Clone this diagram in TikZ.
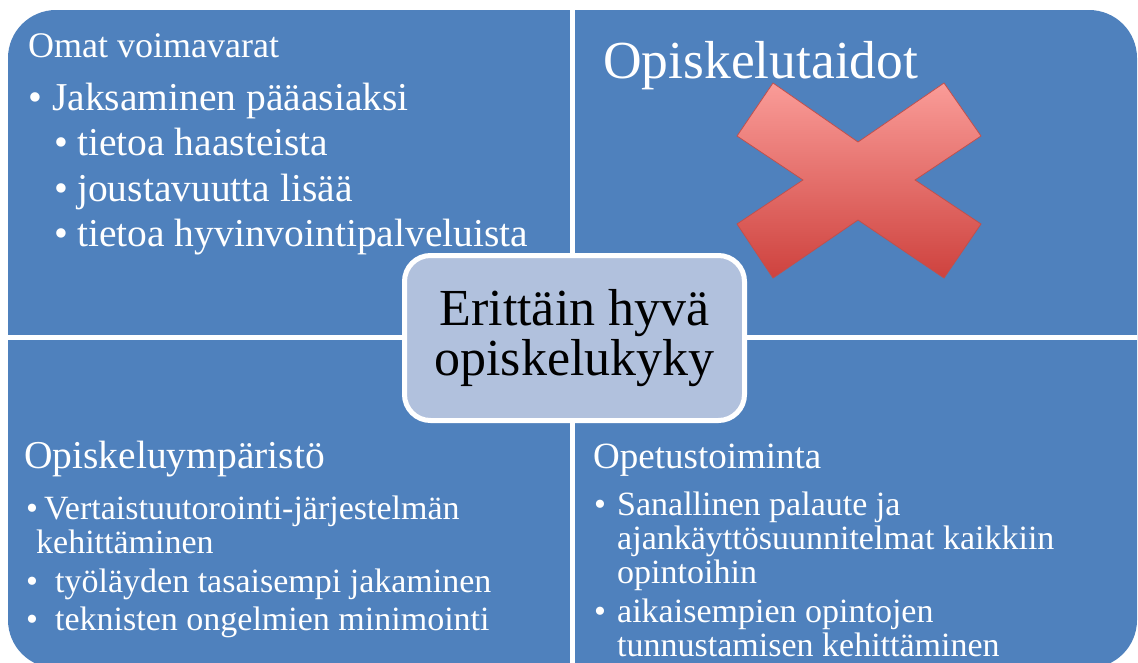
\documentclass[tikz,border=0pt]{standalone}
\usepackage{fontspec}
\setmainfont{Liberation Serif}
\definecolor{QuadBlue}{RGB}{79,129,189}
\definecolor{HubBlue}{RGB}{177,193,221}
\definecolor{CrossTop}{RGB}{250,156,152}
\definecolor{CrossBot}{RGB}{206,66,62}
\definecolor{CrossLine}{RGB}{192,80,77}
\newcommand{\blt}[1]{\makebox[#1][l]{\textbullet}}
\newcommand{\fsz}[2]{\fontsize{#1}{#2}\selectfont}

\begin{document}
\begin{tikzpicture}[x=1pt, y=-1pt,
    txt/.style={text=white, inner sep=0pt, anchor=base west, align=left},
    hub/.style={rectangle, rounded corners=26pt, fill=HubBlue, draw=white, line width=5pt,
                minimum width=340pt, minimum height=165pt, align=center, inner sep=0pt},
  ]
  \useasboundingbox (0,0) rectangle (1138,662);
  \clip (0,0) rectangle (1138,662);
  % quadrants
  \fill[QuadBlue, rounded corners=48pt] (8,10) rectangle (1137,668);
  \draw[white, line width=4.5pt] (572.5,10) -- (572.5,668);
  \draw[white, line width=4.5pt] (8,337.5) -- (1137,337.5);

  % top left (list nodes sit on the baseline of their last line)
  \node[txt, font=\fsz{36}{40}] (omat) at (28,57) {Omat voimavarat};
  \node[txt, font=\fsz{39.5}{45.5}] (omatlist) at (28,246.5)
    {\blt{24pt}Jaksaminen pääasiaksi\\
     \hspace{26pt}\blt{23pt}tietoa haasteista\\
     \hspace{26pt}\blt{23pt}joustavuutta lisää\\
     \hspace{26pt}\blt{23pt}tietoa hyvinvointipalveluista};

  % top right
  \node[txt, font=\fsz{53.5}{60}] (taidot) at (603,78) {Opiskelutaidot};
  \shade[top color=CrossTop, bottom color=CrossBot, draw=CrossLine, line width=0.8pt]
    (773,83) -- (858,142) -- (944,83) -- (981,136) -- (915,180) -- (981,224)
    -- (944,278) -- (858,220) -- (773,278) -- (737,224) -- (803,180) -- (737,136) -- cycle;

  % bottom left
  \node[txt, font=\fsz{39.5}{44}] (ymparisto) at (24,468) {Opiskeluympäristö};
  \node[txt, font=\fsz{34}{34}] (ymplist) at (26,630)
    {\blt{18pt}Vertaistuutorointi-järjestelmän\\
     \hspace{10pt}kehittäminen\\[5pt]
     \blt{29pt}työläyden tasaisempi jakaminen\\[4pt]
     \blt{29pt}teknisten ongelmien minimointi};

  % bottom right
  \node[txt, font=\fsz{37}{42}] (opetus) at (593,468) {Opetustoiminta};
  \node[txt, font=\fsz{34}{34}] (opetuslist) at (594,656)
    {\blt{23pt}Sanallinen palaute ja\\
     \hspace{23pt}ajankäyttösuunnitelmat kaikkiin\\
     \hspace{23pt}opintoihin\\[5pt]
     \blt{23pt}aikaisempien opintojen\\
     \hspace{23pt}tunnustamisen kehittäminen};

  % centre
  \node[hub, font=\fsz{52}{50}] (kyky) at (574.5,338) {Erittäin hyvä\\opiskelukyky};
\end{tikzpicture}
\end{document}
